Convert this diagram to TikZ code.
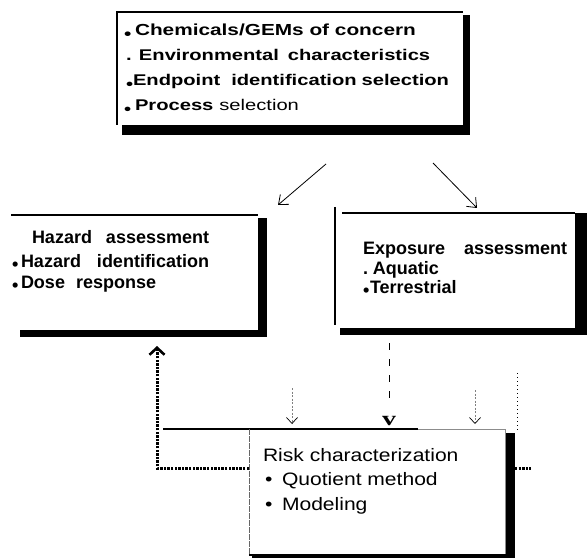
\documentclass[tikz,border=0pt]{standalone}
\usepackage{fontspec}
\setmainfont{Liberation Sans}
\newfontfamily\topfont[FakeStretch=1.3]{Liberation Sans}
\newfontfamily\boxfont{Liberation Sans}
\newfontfamily\riskfont[FakeStretch=1.17]{Liberation Sans}
\newfontfamily\tipfont[FakeStretch=1.4]{Liberation Serif}
\usetikzlibrary{arrows.meta}
\newcommand{\lowbul}{\raisebox{-0.2em}{•}}

\begin{document}
\begin{tikzpicture}[x=1bp,y=-1bp,
  txt/.style={anchor=base west, inner sep=0pt, outer sep=0pt},
  toptxt/.style={txt, font={\fontsize{15.5bp}{18bp}\topfont\bfseries}},
  boxtxt/.style={txt, font={\fontsize{18bp}{20bp}\boxfont\bfseries}},
  risktxt/.style={txt, font={\fontsize{18bp}{20bp}\riskfont}},
  panel/.style={fill=white, inner sep=0pt, outer sep=0pt, anchor=north west},
  shadow/.style={fill=black},
  edge/.style={line width=1.6bp},
  flow/.style={line width=0.8bp, -{Straight Barb[length=8bp,width=13bp]}},
  feed/.style={line width=0.6bp, gray, dash pattern=on 2bp off 1.5bp,
    -{Straight Barb[length=6bp,width=11bp,line width=0.7bp,color=black]}},
  loop/.style={line width=3bp, dash pattern=on 2.4bp off 1.2bp}]
\useasboundingbox (0,0) rectangle (587,559);

% ---- problem formulation box
\fill[shadow] (122,15) rectangle (470,135);
\node[panel, minimum width=346bp, minimum height=113bp] (top) at (117,12) {};
\draw[edge] (top.south west) -- (top.north west) -- (top.north east);
\node[toptxt, font={\fontsize{16bp}{18bp}\topfont\bfseries}] (t1) at (124,36) {\makebox[11bp][l]{\lowbul}Chemicals/GEMs of concern};
\node[toptxt] (t2) at (126,61) {\makebox[13bp][l]{.}Environmental\hspace{9bp}characteristics};
\node[toptxt] (t3) at (126,86) {\makebox[7bp][l]{\lowbul}Endpoint\hspace{11bp}identification\hspace{5bp}selection};
\node[toptxt] (t4) at (124,111) {\makebox[11bp][l]{\lowbul}Process\hspace{6bp}{\mdseries selection}};

% ---- hazard assessment box
\fill[shadow] (20,218) rectangle (267,337);
\node[panel, minimum width=247bp, minimum height=115bp] (haz) at (11,215) {};
\draw[edge] (haz.north west) -- (haz.north east);
\node[boxtxt] (h1) at (32,243) {Hazard\hspace{14bp}assessment};
\node[boxtxt] (h2) at (12,267) {\makebox[9bp][l]{\lowbul}Hazard\hspace{16bp}identification};
\node[boxtxt] (h3) at (12,288) {\makebox[9bp][l]{\lowbul}Dose\hspace{11bp}response};

% ---- exposure assessment box
\fill[shadow] (340,213) rectangle (587,335);
\node[panel, minimum width=240bp, minimum height=115bp] (exp) at (335,213) {};
\draw[edge] (335,207) -- (335,325);
\draw[line width=2bp] (342,213) -- (575,213);
\node[boxtxt] (e1) at (363,254) {Exposure\hspace{19bp}assessment};
\node[boxtxt] (e2) at (363,274) {\makebox[10bp][l]{.}Aquatic};
\node[boxtxt] (e3) at (363,293) {\makebox[7bp][l]{\lowbul}Terrestrial};

% ---- risk characterization box
\fill[shadow] (252,433) rectangle (515,558);
\node[panel, minimum width=256bp, minimum height=126bp] (risk) at (249,429) {};
\draw[line width=1.8bp] (163,429) -- (418,429);
\draw[line width=0.9bp, black!45] (418,429) -- (risk.north east) -- (risk.south east);
\draw[line width=0.7bp, black!60, dash pattern=on 6bp off 1bp] (risk.north west) -- (risk.south west);
\draw[line width=1.8bp] (risk.south west) -- ++(266,0);
\node[risktxt] (r1) at (263,461) {Risk characterization};
\node[risktxt] (r2) at (265,485) {\makebox[17bp][l]{•}Quotient method};
\node[risktxt] (r3) at (265,510) {\makebox[17bp][l]{•}Modeling};

% ---- connectors
\coordinate (aL0) at (326,164); \coordinate (aL1) at (278,205);
\coordinate (aR0) at (433,163); \coordinate (aR1) at (477,208);
\draw[flow] (aL0) -- (aL1);
\draw[flow] (aR0) -- (aR1);

\node[inner sep=0pt, anchor=base, font={\fontsize{20bp}{20bp}\tipfont\bfseries}] (vtip) at (389,425) {v};
\coordinate (dc0) at (389,343); \coordinate (dc1) at (389,398);
\draw[line width=1bp, dash pattern=on 7bp off 9bp] (dc0) -- (dc1);

\coordinate (f1a) at (292,388); \coordinate (f1b) at (292,424);
\coordinate (f2a) at (475,390); \coordinate (f2b) at (475,424);
\draw[feed] (f1a) -- (f1b);
\draw[feed] (f2a) -- (f2b);

\coordinate (rv0) at (517,373); \coordinate (rv1) at (517,432);
\draw[line width=1bp, dash pattern=on 1bp off 3bp] (rv0) -- (rv1);

\coordinate (lp1) at (157,468); \coordinate (lp2) at (157,346);
\draw[loop, -{Straight Barb[length=7bp,width=15bp,line width=2.6bp]}]
  (risk.west |- lp1) -- (lp1) -- (lp2);
\coordinate (rp1) at (531,468);
\draw[loop] (risk.east |- rp1) ++(10,0) -- (rp1);
\end{tikzpicture}
\end{document}
